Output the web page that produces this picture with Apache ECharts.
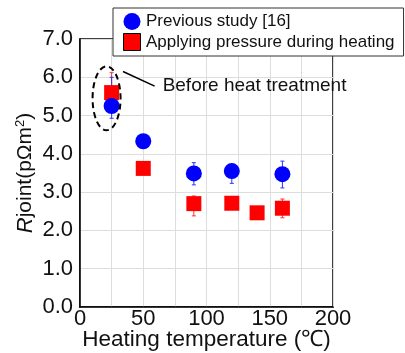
<!DOCTYPE html>
<html><head><meta charset="utf-8">
<script src="https://cdn.jsdelivr.net/npm/echarts@6/dist/echarts.min.js"></script>
<style>html,body{margin:0;padding:0;background:#fff}#c{width:405px;height:353px}</style>
</head><body><div id="c"></div>
<script>
const tempsPrev = [25, 50, 90, 120, 160];
const rPrev = [5.25, 4.33, 3.49, 3.55, 3.47];
const errPrevLow = [4.93, 4.28, 3.19, 3.23, 3.11];
const errPrevHigh = [6.0, 4.38, 3.77, 3.71, 3.81];

const tempsPress = [25, 50, 90, 120, 140, 160];
const rPress = [5.6, 3.62, 2.7, 2.71, 2.46, 2.58];
const errPressLow = [5.1, 3.55, 2.38, 2.6, 2.4, 2.33];
const errPressHigh = [6.12, 3.7, 2.9, 2.85, 2.55, 2.82];

const seriesNames = ['Previous study [16]', 'Applying pressure during heating'];
const annotationText = 'Before heat treatment';
const xTicks = [0, 50, 100, 150, 200];

const FONT = '"Liberation Sans", Arial, sans-serif';
const chart = echarts.init(document.getElementById('c'));

function errSeries(xs, lo, hi, color) {
  return {
    type: 'custom',
    silent: true,
    z: 1,
    data: xs.map((x, i) => [x, lo[i], hi[i]]),
    renderItem: function (params, api) {
      const p1 = api.coord([api.value(0), api.value(1)]);
      const p2 = api.coord([api.value(0), api.value(2)]);
      const w = 2;
      return {
        type: 'group',
        children: [
          {type: 'line', shape: {x1: p1[0], y1: p1[1], x2: p2[0], y2: p2[1]}, style: {stroke: color, lineWidth: 1}},
          {type: 'line', shape: {x1: p1[0]-w, y1: p1[1], x2: p1[0]+w, y2: p1[1]}, style: {stroke: color, lineWidth: 1}},
          {type: 'line', shape: {x1: p2[0]-w, y1: p2[1], x2: p2[0]+w, y2: p2[1]}, style: {stroke: color, lineWidth: 1}}
        ]
      };
    }
  };
}

chart.setOption({
  animation: false,
  textStyle: {fontFamily: FONT},
  grid: {left: 80, right: 72, top: 39, bottom: 46, show: true, borderColor: '#000', borderWidth: 1.5,
         containLabel: false, outerBoundsMode: 'none'},
  legend: {
    orient: 'vertical',
    left: 113, top: 8, width: 285,
    padding: [5, 9, 5, 10],
    itemGap: 3,
    itemWidth: 18, itemHeight: 17,
    backgroundColor: '#fff',
    borderColor: '#333', borderWidth: 1,
    textStyle: {fontFamily: FONT, fontSize: 17, color: '#111'},
    data: [
      {name: seriesNames[0], icon: 'circle'},
      {name: seriesNames[1], icon: 'path://M0,0L10,0L10,10L0,10Z', itemStyle: {borderColor: '#000', borderWidth: 1}}
    ]
  },
  xAxis: {
    type: 'value', min: 0, max: 200, interval: 25,
    name: 'Heating temperature (℃)', nameLocation: 'middle', nameGap: 21, nameMoveOverlap: false,
    nameTextStyle: {fontFamily: FONT, fontSize: 22.5, color: '#111'},
    axisLine: {show: true, lineStyle: {color: '#000', width: 1.5}},
    axisTick: {show: false},
    splitLine: {show: true, lineStyle: {color: '#ddd', width: 1}},
    axisLabel: {
      fontFamily: FONT, fontSize: 22, color: '#111', margin: 1,
      formatter: v => xTicks.indexOf(v) >= 0 ? String(v) : ''
    }
  },
  yAxis: {
    type: 'value', min: 0, max: 7, interval: 1,
    name: '{i|R}{n|joint(pΩm}{s|2}{n|)}', nameLocation: 'middle', nameGap: 43, nameMoveOverlap: false,
    nameTextStyle: {
      fontFamily: FONT, fontSize: 21, color: '#111',
      rich: {
        i: {fontFamily: FONT, fontSize: 22, fontStyle: 'italic', color: '#111'},
        n: {fontFamily: FONT, fontSize: 21, color: '#111'},
        s: {fontFamily: FONT, fontSize: 13, color: '#111', verticalAlign: 'top', padding: [0, 0, 10, 0]}
      }
    },
    axisLine: {show: true, lineStyle: {color: '#000', width: 1.5}},
    axisTick: {show: false},
    splitLine: {show: true, lineStyle: {color: '#ddd', width: 1}},
    axisLabel: {fontFamily: FONT, fontSize: 22, color: '#111', margin: 7, formatter: v => v.toFixed(1)}
  },
  series: [
    errSeries(tempsPress, errPressLow, errPressHigh, '#ff3030'),
    errSeries(tempsPrev, errPrevLow, errPrevHigh, '#3030ff'),
    {
      name: seriesNames[1], type: 'scatter', symbol: 'rect', symbolSize: 15, z: 2,
      itemStyle: {color: '#ff0000', opacity: 1},
      data: tempsPress.map((x, i) => [x, rPress[i]])
    },
    {
      name: seriesNames[0], type: 'scatter', symbol: 'circle', symbolSize: 16, z: 3,
      itemStyle: {color: '#0000ff', opacity: 1},
      data: tempsPrev.map((x, i) => [x, rPrev[i]])
    }
  ]
});

// annotation: dashed ellipse around the "before heat treatment" points
const c = chart.convertToPixel({gridIndex: 0}, [21, 5.45]);
const l1 = chart.convertToPixel({gridIndex: 0}, [34, 6.15]);
const l2 = chart.convertToPixel({gridIndex: 0}, [59, 5.77]);
chart.setOption({
  graphic: [
    {type: 'ellipse', shape: {cx: c[0], cy: c[1], rx: 14, ry: 32}, z: 10,
      style: {fill: 'none', stroke: '#000', lineWidth: 2, lineDash: [6, 4]}},
    {type: 'line', shape: {x1: l1[0], y1: l1[1], x2: l2[0], y2: l2[1]}, z: 10,
      style: {stroke: '#000', lineWidth: 1.5}},
    {type: 'text', x: l2[0] + 8, y: l2[1], z: 10,
      style: {text: annotationText, font: '19px ' + FONT, fill: '#111', verticalAlign: 'middle'}}
  ]
});
</script></body></html>
